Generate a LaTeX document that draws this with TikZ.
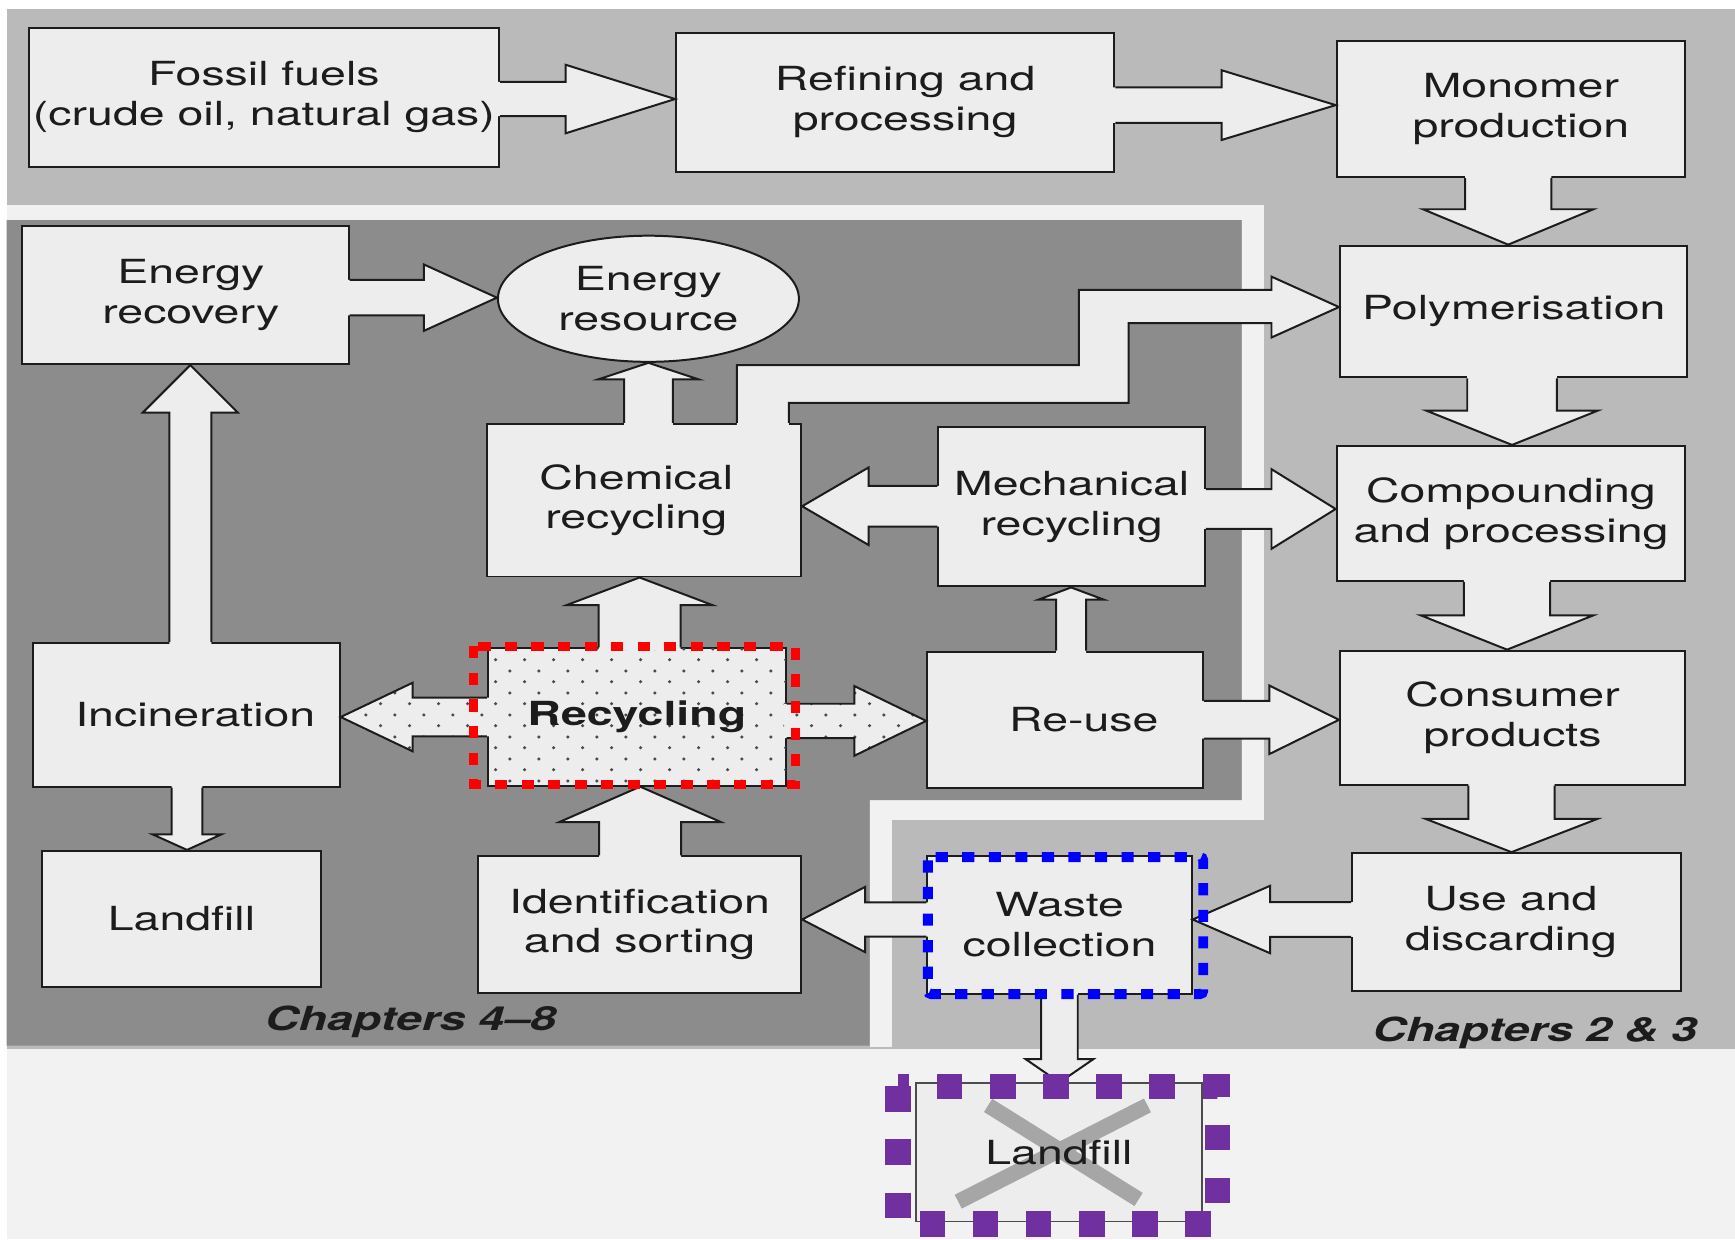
\documentclass[tikz,border=0pt]{standalone}
\usepackage{fontspec}
\setmainfont{TeX Gyre Heros}[FakeStretch=1.4]
\usetikzlibrary{shapes.geometric,calc,patterns}
\definecolor{boxfill}{HTML}{EDEDED}
\definecolor{lightbg}{HTML}{BABABA}
\definecolor{darkbg}{HTML}{8C8C8C}
\definecolor{stripe}{HTML}{F1F1F1}
\definecolor{bottombg}{HTML}{F2F2F2}
\definecolor{inkc}{HTML}{1C1C1C}
\definecolor{dotc}{HTML}{4A4A4A}
\definecolor{xgray}{HTML}{A6A6A6}
\definecolor{mypurple}{HTML}{7030A0}
\pgfdeclarepatternformonly{rdots}{\pgfpointorigin}{\pgfpoint{26pt}{20pt}}{\pgfpoint{26pt}{20pt}}{%
  \pgfpathcircle{\pgfpoint{6pt}{5pt}}{1.6pt}%
  \pgfpathcircle{\pgfpoint{19pt}{15pt}}{1.6pt}%
  \pgfusepath{fill}}
\newcommand\bsz{\fontsize{30}{36}\selectfont}
\newcommand\rsp[1]{\hbox to #1{}}
\tikzset{
  box/.style={draw=inkc, line width=1.8pt, fill=boxfill, inner sep=0pt, align=center, font=\bsz, text=inkc},
  wh/.style 2 args={minimum width=#1pt, minimum height=#2pt},
  afill/.style={fill=boxfill},
  dfill/.style={fill=boxfill, postaction={pattern=rdots, pattern color=dotc}},
  aline/.style={draw=inkc, line width=1.8pt, line join=miter},
  chap/.style={font=\bsz\bfseries\itshape, text=inkc, inner sep=0pt},
}
% right arrow: src anchor, dst anchor, yc, shaft half, head half, head length, fill style
\newcommand\ArR[7]{%
  \fill[#7] let \p1=(#1),\p2=(#2) in
   (\x1-3pt,-#3pt+#4pt) -- (\x2-#6pt,-#3pt+#4pt) -- (\x2-#6pt,-#3pt+#5pt) -- (\x2,-#3pt)
   -- (\x2-#6pt,-#3pt-#5pt) -- (\x2-#6pt,-#3pt-#4pt) -- (\x1-3pt,-#3pt-#4pt) -- cycle;
  \draw[aline] let \p1=(#1),\p2=(#2) in
   (\x1,-#3pt+#4pt) -- (\x2-#6pt,-#3pt+#4pt) -- (\x2-#6pt,-#3pt+#5pt) -- (\x2,-#3pt)
   -- (\x2-#6pt,-#3pt-#5pt) -- (\x2-#6pt,-#3pt-#4pt) -- (\x1,-#3pt-#4pt);}
\newcommand\ArL[7]{%
  \fill[#7] let \p1=(#1),\p2=(#2) in
   (\x1+3pt,-#3pt+#4pt) -- (\x2+#6pt,-#3pt+#4pt) -- (\x2+#6pt,-#3pt+#5pt) -- (\x2,-#3pt)
   -- (\x2+#6pt,-#3pt-#5pt) -- (\x2+#6pt,-#3pt-#4pt) -- (\x1+3pt,-#3pt-#4pt) -- cycle;
  \draw[aline] let \p1=(#1),\p2=(#2) in
   (\x1,-#3pt+#4pt) -- (\x2+#6pt,-#3pt+#4pt) -- (\x2+#6pt,-#3pt+#5pt) -- (\x2,-#3pt)
   -- (\x2+#6pt,-#3pt-#5pt) -- (\x2+#6pt,-#3pt-#4pt) -- (\x1,-#3pt-#4pt);}
% up arrow: src anchor (below), dst anchor (above), xc, shaft half, head half, head length, style
\newcommand\ArU[7]{%
  \fill[#7] let \p1=(#1),\p2=(#2) in
   (#3pt-#4pt,\y1-3pt) -- (#3pt-#4pt,\y2-#6pt) -- (#3pt-#5pt,\y2-#6pt) -- (#3pt,\y2)
   -- (#3pt+#5pt,\y2-#6pt) -- (#3pt+#4pt,\y2-#6pt) -- (#3pt+#4pt,\y1-3pt) -- cycle;
  \draw[aline] let \p1=(#1),\p2=(#2) in
   (#3pt-#4pt,\y1) -- (#3pt-#4pt,\y2-#6pt) -- (#3pt-#5pt,\y2-#6pt) -- (#3pt,\y2)
   -- (#3pt+#5pt,\y2-#6pt) -- (#3pt+#4pt,\y2-#6pt) -- (#3pt+#4pt,\y1);}
\newcommand\ArD[7]{%
  \fill[#7] let \p1=(#1),\p2=(#2) in
   (#3pt-#4pt,\y1+3pt) -- (#3pt-#4pt,\y2+#6pt) -- (#3pt-#5pt,\y2+#6pt) -- (#3pt,\y2)
   -- (#3pt+#5pt,\y2+#6pt) -- (#3pt+#4pt,\y2+#6pt) -- (#3pt+#4pt,\y1+3pt) -- cycle;
  \draw[aline] let \p1=(#1),\p2=(#2) in
   (#3pt-#4pt,\y1) -- (#3pt-#4pt,\y2+#6pt) -- (#3pt-#5pt,\y2+#6pt) -- (#3pt,\y2)
   -- (#3pt+#5pt,\y2+#6pt) -- (#3pt+#4pt,\y2+#6pt) -- (#3pt+#4pt,\y1);}
\begin{document}
\begin{tikzpicture}[x=1pt,y=-1pt]
\useasboundingbox (0,0) rectangle (1568,1120);
% backgrounds
\fill[white] (0,0) rectangle (1568,1120);
\fill[lightbg] (6,8) rectangle (1568,948);
\fill[bottombg] (6,948) rectangle (1568,1120);
\fill[stripe] (6,185) rectangle (1142,199);
\fill[stripe] (1122,185) rectangle (1142,741);
\fill[stripe] (786,723) rectangle (1142,741);
\fill[stripe] (786,723) rectangle (806,946);
\fill[darkbg] (6,199) -- (1122,199) -- (1122,723) -- (786,723) -- (786,945) -- (6,945) -- cycle;

% boxes
\node[box, wh={425}{126}] (fossil) at (238.5,88) {Fossil fuels\\(crude oil, natural gas)};
\node[box, wh={396}{125}] (refin) at (809,92.5) {\kern18pt Refining and\\\kern18pt processing};
\node[box, wh={315}{123}] (monomer) at (1365.5,98.5) {\kern18pt Monomer\\\kern18pt production};
\node[box, wh={314}{119}] (poly) at (1368,281.5) {Polymerisation};
\node[box, wh={315}{122}] (comp) at (1365.5,464) {Compounding\\and processing};
\node[box, wh={312}{121}] (consumer) at (1367,648.5) {Consumer\\products};
\node[box, wh={297}{125}] (use) at (1370.5,833.5) {Use and\rsp{10pt}\\discarding\rsp{10pt}};
\node[box, wh={239}{124}] (waste) at (957.5,836) {Waste\\collection};
\node[box, wh={258}{125}, draw=black!70, line width=1.5pt,
  path picture={\draw[xgray, line width=14pt]
    ($(path picture bounding box.north west)+(65,20)$) -- ($(path picture bounding box.north west)+(201,105)$)
    ($(path picture bounding box.north west)+(209,20)$) -- ($(path picture bounding box.north west)+(38,107)$);}]
  (landfill2) at (957,1041.5) {Landfill};
\node[box, wh={292}{123}] (ident) at (578,835.5) {Identification\\and sorting};
\node[box, wh={252}{123}] (landfill1) at (164,830.5) {Landfill};
\node[box, wh={277}{130}] (incin) at (168.5,646) {\kern16pt Incineration};
\node[box, wh={269}{124}, postaction={pattern=rdots, pattern color=dotc}] (recyc) at (575.5,648) {\bfseries Recycling};
\node[box, wh={249}{123}] (reuse) at (962.5,650.5) {\kern34pt Re-use};
\node[box, wh={241}{144}] (mech) at (968.5,458) {Mechanical\\recycling};
\node[box, wh={284}{138}] (chem) at (582,452) {Chemical\rsp{14pt}\\recycling\rsp{14pt}};
\node[box, ellipse, wh={272}{114}] (eres) at (586,270) {Energy\\resource};
\node[box, wh={295}{125}] (erec) at (167.5,266.5) {\kern10pt Energy\\\kern10pt recovery};

\node[chap] (ch48) at (371,923) {Chapters 4–8};
\node[chap] (ch23) at (1387,933) {Chapters 2 \& 3};

% arrows
\ArR{fossil.east}{refin.west}{89.5}{15.5}{31}{99}{afill}
\ArR{refin.east}{monomer.west}{95}{16}{31.5}{103}{afill}
\ArD{monomer.south}{poly.north}{1363}{39}{77}{32}{afill}
\ArD{poly.south}{comp.north}{1366.5}{40.5}{77.5}{31}{afill}
\ArD{comp.south}{consumer.north}{1362}{39}{78}{31}{afill}
\ArD{consumer.south}{use.north}{1366}{39}{77.5}{30}{afill}
\ArL{use.west}{waste.east}{831}{15.75}{30.5}{70}{afill}
\ArL{waste.west}{ident.east}{831}{15.5}{29.5}{57}{afill}
\ArD{waste.south}{landfill2.north}{957.5}{16.5}{30.5}{21}{afill}
\ArU{ident.north}{recyc.south}{578.5}{37}{73}{32}{afill}
\ArU{recyc.north}{chem.south}{578}{37}{66}{25}{afill}
\ArU{chem.north}{eres.south}{586}{22}{45.5}{15}{afill}
\ArU{incin.north}{erec.south}{172}{19}{43}{43}{afill}
\ArR{erec.east}{eres.west}{269}{16}{30}{66}{afill}
\ArD{incin.south}{landfill1.north}{169}{14}{31}{14}{afill}
\ArL{recyc.west}{incin.east}{648}{17.5}{31}{65}{dfill}
\ArR{recyc.east}{reuse.west}{651.5}{15.5}{31.5}{65}{dfill}
\ArU{reuse.north}{mech.south}{968}{13.5}{29.5}{11}{afill}
\ArR{reuse.east}{consumer.west}{650.5}{17}{31}{63}{afill}
\ArR{mech.east}{comp.west}{460}{18}{36}{58}{afill}
\ArL{mech.west}{chem.east}{457.5}{18.5}{35}{60}{afill}
% stepped arrow chemical recycling -> polymerisation
\fill[afill] let \p1=(chem.north),\p2=(poly.west) in
  (666pt,\y1-3pt) -- (666pt,-330pt) -- (975pt,-330pt) -- (975pt,-262pt) -- (\x2-61pt,-262pt)
  -- (\x2-61pt,-250pt) -- (\x2,-277.5pt) -- (\x2-61pt,-305pt) -- (\x2-61pt,-292pt)
  -- (1020pt,-292pt) -- (1020pt,-364pt) -- (713pt,-364pt) -- (713pt,\y1-3pt) -- cycle;
\draw[aline] let \p1=(chem.north),\p2=(poly.west) in
  (666pt,\y1) -- (666pt,-330pt) -- (975pt,-330pt) -- (975pt,-262pt) -- (\x2-61pt,-262pt)
  -- (\x2-61pt,-250pt) -- (\x2,-277.5pt) -- (\x2-61pt,-305pt) -- (\x2-61pt,-292pt)
  -- (1020pt,-292pt) -- (1020pt,-364pt) -- (713pt,-364pt) -- (713pt,\y1);

% highlight frames
\draw[red, line width=8.5pt, dash pattern=on 11pt off 13pt]
  ([shift={(-12,-1)}]recyc.north west) rectangle ([shift={(8,-2)}]recyc.south east);
\draw[blue, line width=9pt, dash pattern=on 11pt off 13pt, rounded corners=3pt]
  ([shift={(1.5,1.5)}]waste.north west) rectangle ([shift={(9.5,-0.5)}]waste.south east);
\draw[mypurple, line width=23pt, dash pattern=on 23pt off 25pt]
  ([shift={(-15.5,3.5)}]landfill2.north west) rectangle ([shift={(13.5,1.5)}]landfill2.south east);
\end{tikzpicture}
\end{document}
